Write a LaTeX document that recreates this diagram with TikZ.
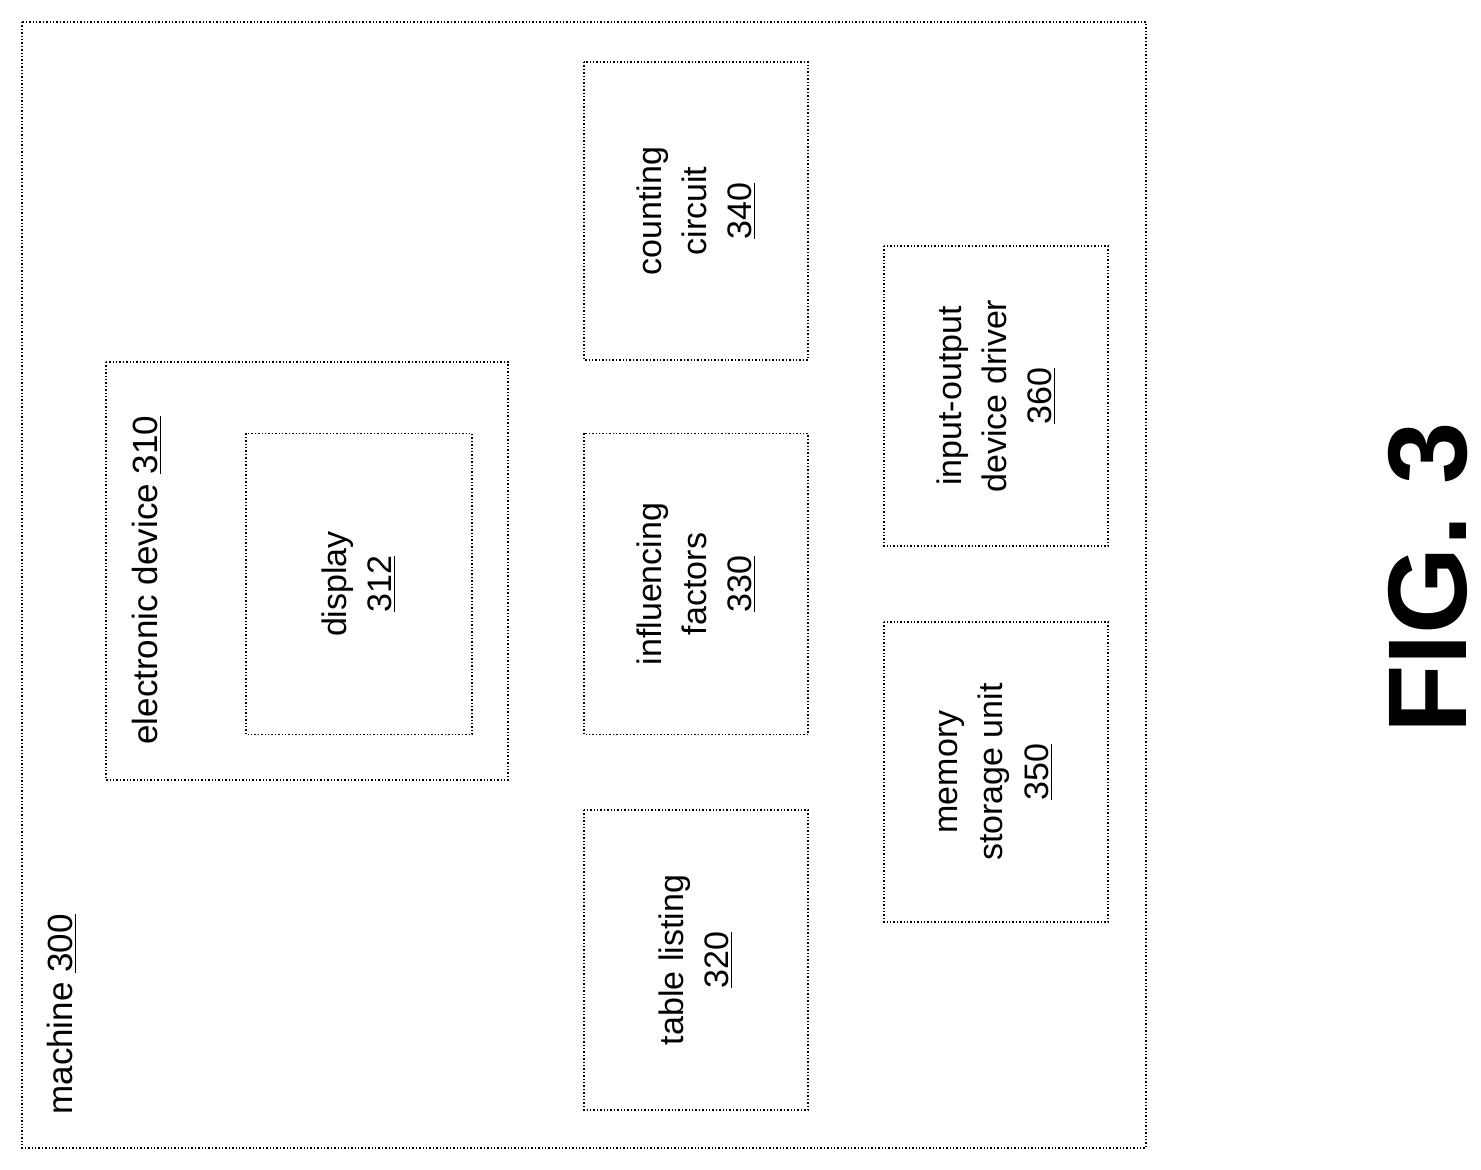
\documentclass[tikz,border=0pt]{standalone}
\usepackage{fontspec}
\setmainfont{Liberation Sans}
\begin{document}
\begin{tikzpicture}[x=0.5pt,y=-0.5pt,
 unit/.style ={rectangle, draw=black, densely dotted, line width=0.7pt, align=center, rotate=90, inner sep=0pt, font=\fontsize{17}{22.5}\selectfont},
 tag/.style ={rotate=90, anchor=west, inner sep=0pt, font=\fontsize{17.5}{20}\selectfont}]
\useasboundingbox (0,0) rectangle (1481,1170);

\draw[densely dotted, line width=0.7pt] (22,22) rectangle (1146,1148);
\node[tag] (machine) at (62,1115) {machine \underline{300}};

\node[unit, minimum width=209pt, minimum height=201pt] (elec) at (307,571) {};
\node[tag] (elecl) at (147,745) {electronic device \underline{310}};
\node[unit, minimum width=150.5pt, minimum height=113pt] (disp) at (359,584) {display\\\underline{312}};

\node[unit, minimum width=150pt, minimum height=112pt] (table) at (696,960) {table listing\\\underline{320}};
\node[unit, minimum width=150.5pt, minimum height=112pt] (infl) at (696,584) {influencing\\factors\\\underline{330}};
\node[unit, minimum width=149pt, minimum height=112pt] (count) at (696,211) {counting\\circuit\\\underline{340}};
\node[unit, minimum width=150pt, minimum height=112pt] (mem) at (996,772) {memory\\storage unit\\\underline{350}};
\node[unit, minimum width=150pt, minimum height=112pt] (io) at (996,396) {input-output\\device driver\\\underline{360}};

\node[rotate=90, inner sep=0pt, font=\fontsize{56}{60}\selectfont\bfseries] (fig) at (1428,578) {FIG. 3};
\end{tikzpicture}
\end{document}
